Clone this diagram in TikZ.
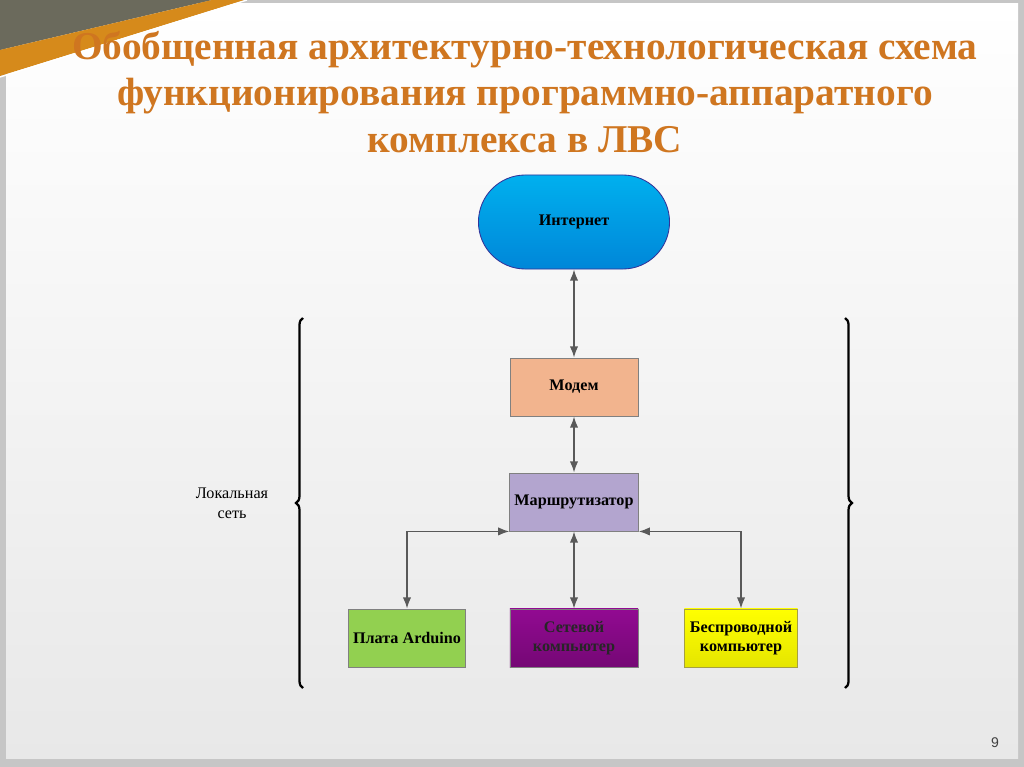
\documentclass[tikz,border=0pt]{standalone}
\usepackage{fontspec}
\setmainfont{Liberation Serif}
\newfontfamily\numfont{Liberation Sans}
\usetikzlibrary{arrows,arrows.meta,positioning,calc,decorations.pathreplacing}

\definecolor{titleorange}{HTML}{CF7620}
\definecolor{cornergray}{HTML}{6B6A5C}
\definecolor{linegray}{HTML}{595959}
\definecolor{inetblue}{HTML}{00B0EE}
\definecolor{modemfill}{HTML}{F2B48E}
\definecolor{routerfill}{HTML}{B3A5CF}
\definecolor{arduinofill}{HTML}{92D050}
\definecolor{pcfill}{HTML}{920A92}

\tikzset{
    block/.style={draw, line width=0.6pt, minimum width=3.2cm, minimum height=1.45cm,
        align=center, font=\fontsize{11.5}{14}\selectfont\bfseries},
    link/.style={{Latex[length=8pt,width=6pt]}-{Latex[length=8pt,width=6pt]}, line width=1.1pt, draw=linegray},
    bracket/.style={decorate, decoration={brace, amplitude=5pt}, line width=1.6pt},
    title/.style={font=\fontsize{28}{33}\selectfont\bfseries, align=center}
}

\begin{document}
\begin{tikzpicture}[x=0.025cm, y=-0.025cm]
        % ================== Slide background ==================
        \useasboundingbox (0,0) rectangle (1024,767);
        \fill[gray!45] (0,0) rectangle (1024,767);
        \shade[top color=white, bottom color=gray!18] (6,4) rectangle (1018,758);
        \fill[cornergray] (0,0) -- (212,0) -- (0,50) -- cycle;
        \fill[titleorange!85!yellow] (0,50) -- (212,0) -- (245,0) -- (0,76) -- cycle;
        \draw[white, line width=1pt] (0,77) -- (247,0);

        % Title
        \node[title, text=titleorange] (title) at (525,92) {Обобщенная архитектурно-технологическая схема\\функционирования программно-аппаратного\\комплекса в ЛВС};

        % Blocks
        \node[block, minimum width=4.775cm, minimum height=2.35cm, rounded corners=1.17cm,
              top color=inetblue, bottom color=inetblue!85!blue!90!black, draw=blue!50!black!80] (inet) at (574,222) {Интернет};
        \node[block, fill=modemfill, draw=gray] (modem) at (574,387) {Модем};
        \node[block, fill=routerfill, draw=gray] (router) at (574,502) {Маршрутизатор};
        \node[block, minimum width=2.825cm, fill=arduinofill, draw=gray] (arduino) at (407,638) {Плата Arduino};
        \node[block, top color=pcfill, bottom color=pcfill!80!black, draw=gray,
              text=black!85] (pc) at (574,638) {Сетевой\\компьютер};
        \node[block, minimum width=2.825cm, top color=yellow, bottom color=yellow!90!black, draw=yellow!60!black] (wifi) at (741,638) {Беспроводной\\компьютер};

        % Links
        \draw[link] (inet.south) -- (modem.north);
        \draw[link] (modem.south) -- (router.north);
        \draw[link] (router.south) -- (pc.north);
        \draw[link] (router.south west) -| (arduino.north);
        \draw[link] (router.south east) -| (wifi.north);

        % Braces
        \coordinate (lbot) at (303,688);
        \coordinate (ltop) at (303,318);
        \coordinate (rtop) at (845,318);
        \coordinate (rbot) at (845,688);
        \draw[bracket] (lbot) -- (ltop);
        \draw[bracket] (rtop) -- (rbot);
        \node[align=center, font=\fontsize{11.5}{14}\selectfont] (lan) at (232,503) {Локальная\\сеть};

        % Page number
        \node[font=\numfont\fontsize{10}{12}\selectfont, text=black!75] (page) at (995,743) {9};
    \end{tikzpicture}
\end{document}
